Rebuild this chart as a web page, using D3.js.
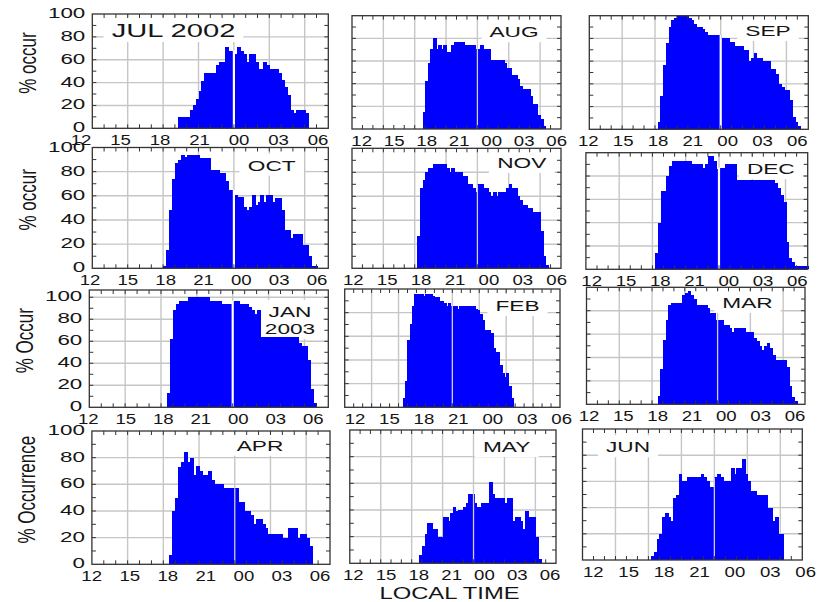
<!DOCTYPE html>
<html>
<head>
<meta charset="utf-8">
<script src="https://cdn.jsdelivr.net/npm/d3@7"></script>
<style>
  body { margin: 0; background: #fff; }
  text { font-family: "Liberation Sans", Arial, sans-serif; fill: #151515; }
</style>
</head>
<body>
<div id="chart"></div>
<script>
// Monthly % occurrence vs local time, 15-min bins (Jul 2002 - Jun 2003)
const months = ["JUL", "AUG", "SEP", "OCT", "NOV", "DEC", "JAN", "FEB", "MAR", "APR", "MAY", "JUN"];
const titles = ["JUL 2002", "AUG", "SEP", "OCT", "NOV", "DEC", "JAN\n2003", "FEB", "MAR", "APR", "MAY", "JUN"];
const yTitles = ["% occur", "% occur", "% Occur", "% Occurrence"];
// hour of the first bin (hours after midnight are 24+)
const startHours = [19.25, 18.75, 18.25, 18.0, 18.25, 18.25, 18.5, 18.5, 18.5, 18.5, 18.75, 18.25];
const binWidth = 0.25;

const jul = [10,10,10,10,16,20,26,33,41,48,48,48,48,55,58,58,71,68,68,
  65,71,68,65,58,65,65,58,52,52,58,55,52,52,52,48,42,36,29,16,13,16,16,16,13];
const aug = [15,42,58,71,80,71,74,71,74,68,68,74,77,77,77,77,74,74,74,74,71,
  71,74,71,71,71,61,61,61,61,61,58,54,54,48,48,44,38,35,35,35,29,22,22,12,9,3];
const sep = [6,29,57,76,90,96,98,100,100,100,100,98,96,93,90,90,88,86,83,83,83,83,83,
  80,80,80,77,77,73,73,73,70,70,60,63,67,63,63,60,60,60,53,53,49,40,37,35,35,26,11,6,3];
const oct = [2,15,48,74,87,90,94,92,94,94,94,94,91,91,91,91,81,81,81,79,79,72,65,65,
  61,59,59,51,48,51,61,52,55,61,55,61,61,55,58,58,48,32,32,25,28,28,28,19,19,10,2,2];
const nov = [27,67,74,80,84,84,87,87,87,87,87,84,80,84,80,80,80,77,77,70,70,67,64,
  70,70,67,67,64,60,64,60,64,64,64,67,70,67,67,60,57,53,53,50,50,47,47,47,31,10,3];
const dec = [14,40,67,67,80,89,93,93,93,93,93,93,93,90,90,90,90,87,90,97,97,93,86,
  87,87,90,90,90,90,77,77,77,77,77,77,77,77,77,77,77,77,77,77,74,70,64,58,23,10,6,3,3,3,3,3];
const jan = [13,62,88,94,97,97,97,100,100,100,100,100,100,100,97,97,97,97,94,94,94,94,
  97,97,94,94,94,91,88,85,88,64,64,64,64,64,64,64,64,64,64,64,64,64,58,56,56,43,17,4];
const feb = [8,22,57,70,86,96,96,96,96,94,96,96,96,94,93,93,90,90,88,86,88,86,
  86,86,83,86,86,86,86,86,86,86,83,82,79,74,65,65,65,63,50,47,47,36,29,26,29,18,8];
const mar = [7,30,55,72,85,87,87,87,87,93,95,97,93,90,85,85,85,85,82,78,78,72,
  72,72,68,68,65,62,65,65,65,65,62,62,62,57,54,50,46,50,52,48,42,38,38,38,38,32,16,6,3];
const apr = [7,40,50,73,77,84,77,80,67,74,70,67,67,70,63,60,60,60,57,57,57,57,
  57,47,47,40,40,37,30,34,34,30,27,23,23,23,23,23,20,20,27,27,27,20,23,23,20,14];
const may = [6,13,22,30,30,26,26,20,20,35,35,32,38,42,39,40,40,42,45,52,52,
  45,42,42,45,45,45,61,52,49,49,49,49,45,49,49,32,35,35,32,26,39,35,35,35,20,3];
const jun = [3,6,16,20,33,36,33,30,47,50,66,60,60,63,63,63,63,63,66,63,60,56,56,
  63,66,63,60,60,60,70,66,70,70,77,66,60,53,53,50,50,50,50,40,40,30,33,20,20];

const series = [jul, aug, sep, oct, nov, dec, jan, feb, mar, apr, may, jun];

const tickHours = [12, 15, 18, 21, 24, 27, 30];
const tickLabels = ["12", "15", "18", "21", "00", "03", "06"];
const yTicks = [0, 20, 40, 60, 80, 100];

// panel frames (the source figure is a pasted mosaic, so each one is placed separately)
// x0/x1 frame edges, yt/yb top/bottom, lab = centres of the "12" and "06" labels
const panels = [
  {x0: 92.3, x1: 328.3, yt: 14, yb: 128.3, lab: [81, 318], tx: 173.5, ty: 37, tf: 18, gap: true},
  {x0: 352, x1: 561, yt: 15.7, yb: 129, lab: [361.7, 556.7], tx: 514, ty: 37.3},
  {x0: 589.3, x1: 808.3, yt: 15.7, yb: 129.3, lab: [588.3, 797.3], tx: 768, ty: 36, gap: true},
  {x0: 92.3, x1: 328.3, yt: 147.5, yb: 268.3, lab: [90, 317], tx: 271.7, ty: 170.7, gap: true},
  {x0: 352, x1: 561, yt: 148.3, yb: 268.3, lab: [353.3, 556.7], tx: 521.7, ty: 168},
  {x0: 585.9, x1: 807.7, yt: 152.7, yb: 269.3, lab: [591.7, 797.3], tx: 770.8, ty: 174, gap: true},
  {x0: 89.3, x1: 328.3, yt: 290, yb: 407.3, ymax: 106.6, lab: [88.3, 313.3], tx: 290, ty: 317, gap: true},
  {x0: 344.7, x1: 560, yt: 289, yb: 407.3, xmax: 36, lab: [355, 561.7], tx: 517.5, ty: 311},
  {x0: 586.5, x1: 805, yt: 287.3, yb: 404.3, lab: [589, 795], tx: 747.5, ty: 308},
  {x0: 91.9, x1: 330, yt: 431, yb: 564.3, lab: [91.7, 320], tx: 260, ty: 450.7},
  {x0: 349.8, x1: 556, yt: 430, yb: 563.3, lab: [353.3, 550], tx: 506.7, ty: 452},
  {x0: 582.5, x1: 802.3, yt: 429, yb: 560, lab: [593.3, 805.7], tx: 628, ty: 452.3}
];

const W = 818, H = 602;
const svg = d3.select("#chart").append("svg").attr("width", W).attr("height", H);
svg.append("rect").attr("width", W).attr("height", H).attr("fill", "#fff");

const gGrid = svg.append("g"), gBox = svg.append("g"), gBars = svg.append("g"),
      gFrame = svg.append("g"), gText = svg.append("g");

// the original lettering is stretched sideways
function wideText(sel, x, y, sx, str, size, anchor) {
  return sel.append("text")
    .attr("transform", `translate(${x},${y}) scale(${sx},1)`)
    .attr("text-anchor", anchor || "middle")
    .attr("font-size", size)
    .text(str);
}

panels.forEach((p, i) => {
  const vals = series[i], start = startHours[i];
  const xmax = p.xmax || 32, ymax = p.ymax || 100;
  const x = d3.scaleLinear().domain([12, xmax]).range([p.x0, p.x1]);
  const y = d3.scaleLinear().domain([0, ymax]).range([p.yb, p.yt]);
  const xl = d3.scaleLinear().domain([12, 30]).range(p.lab);

  // grid
  gGrid.append("g").selectAll("line").data(d3.range(15, xmax, 3)).join("line")
    .attr("x1", d => x(d)).attr("x2", d => x(d))
    .attr("y1", y(0)).attr("y2", y(ymax))
    .attr("stroke", "#c6c6c6").attr("stroke-width", 1.4);
  gGrid.append("g").selectAll("line").data(d3.range(20, ymax, 20)).join("line")
    .attr("x1", p.x0).attr("x2", p.x1)
    .attr("y1", d => y(d)).attr("y2", d => y(d))
    .attr("stroke", "#c6c6c6").attr("stroke-width", 1.4);

  // bars
  const bins = vals.map((v, k) => ({h: start + k * binWidth, v: v}));
  gBars.append("g").attr("shape-rendering", "crispEdges")
    .selectAll("rect").data(bins).join("rect")
    .attr("x", d => x(d.h))
    .attr("width", d => x(d.h + binWidth) - x(d.h) + 1)
    .attr("y", d => y(d.v))
    .attr("height", d => y(0) - y(d.v))
    .attr("fill", "#0000ff");

  // midnight line showing through the bars
  const k24 = Math.round((24 - start) / binWidth);
  const top24 = Math.max(vals[k24 - 1] || 0, vals[k24] || 0);
  gBars.append("line")
    .attr("x1", x(24)).attr("x2", x(24))
    .attr("y1", y(0)).attr("y2", y(top24))
    .attr("stroke", p.gap ? "#ffffff" : "#cfcfcf")
    .attr("stroke-width", p.gap ? 2.2 : 1.3);

  // frame and inward ticks
  gFrame.append("rect")
    .attr("x", p.x0).attr("y", p.yt)
    .attr("width", p.x1 - p.x0).attr("height", p.yb - p.yt)
    .attr("fill", "none").attr("stroke", "#333").attr("stroke-width", 1.3);
  const hours = d3.range(13, xmax, 1);
  const tk = gFrame.append("g").attr("stroke", "#333").attr("stroke-width", 1);
  hours.forEach(h => {
    tk.append("line").attr("x1", x(h)).attr("x2", x(h)).attr("y1", y(0)).attr("y2", y(0) - 4);
    tk.append("line").attr("x1", x(h)).attr("x2", x(h)).attr("y1", p.yt).attr("y2", p.yt + 4);
  });
  d3.range(10, 101, 10).filter(v => y(v) > p.yt + 1).forEach(v => {
    tk.append("line").attr("x1", p.x0).attr("x2", p.x0 + 4).attr("y1", y(v)).attr("y2", y(v));
    tk.append("line").attr("x1", p.x1).attr("x2", p.x1 - 4).attr("y1", y(v)).attr("y2", y(v));
  });

  // x tick labels
  tickHours.forEach((h, k) => {
    wideText(gText, xl(h), p.yb + 17, 1.2, tickLabels[k], 15.5);
  });

  // y tick labels and title on the left column
  if (i % 3 === 0) {
    yTicks.forEach(v => {
      wideText(gText, p.x0 - 7, y(v) + 4, 1.6, String(v), 14, "end");
    });
    gText.append("text")
      .attr("transform", `translate(${p.x0 - 65},${(p.yt + p.yb) / 2 - 8}) scale(1.4,1) rotate(-90)`)
      .attr("text-anchor", "middle")
      .attr("dy", "0.35em")
      .attr("font-size", 17)
      .text(yTitles[i / 3]);
  }

  // month label with white backing
  const tf = p.tf || 14, tsx = 1.62;
  const lines = titles[i].split("\n");
  const tl = lines.map((s, k) => wideText(gText, p.tx, p.ty + k * 17, tsx, s, tf));
  const bw = d3.max(tl, t => t.node().getBBox().width) * tsx;
  const capH = 0.72 * tf;
  gBox.append("rect")
    .attr("x", p.tx - bw / 2 - 8)
    .attr("y", p.ty - capH - 7)
    .attr("width", bw + 16)
    .attr("height", (lines.length - 1) * 17 + capH + 12)
    .attr("fill", "#fff");
});

wideText(gText, 449.5, 599, 1.4, "LOCAL TIME", 17);
</script>
</body>
</html>
